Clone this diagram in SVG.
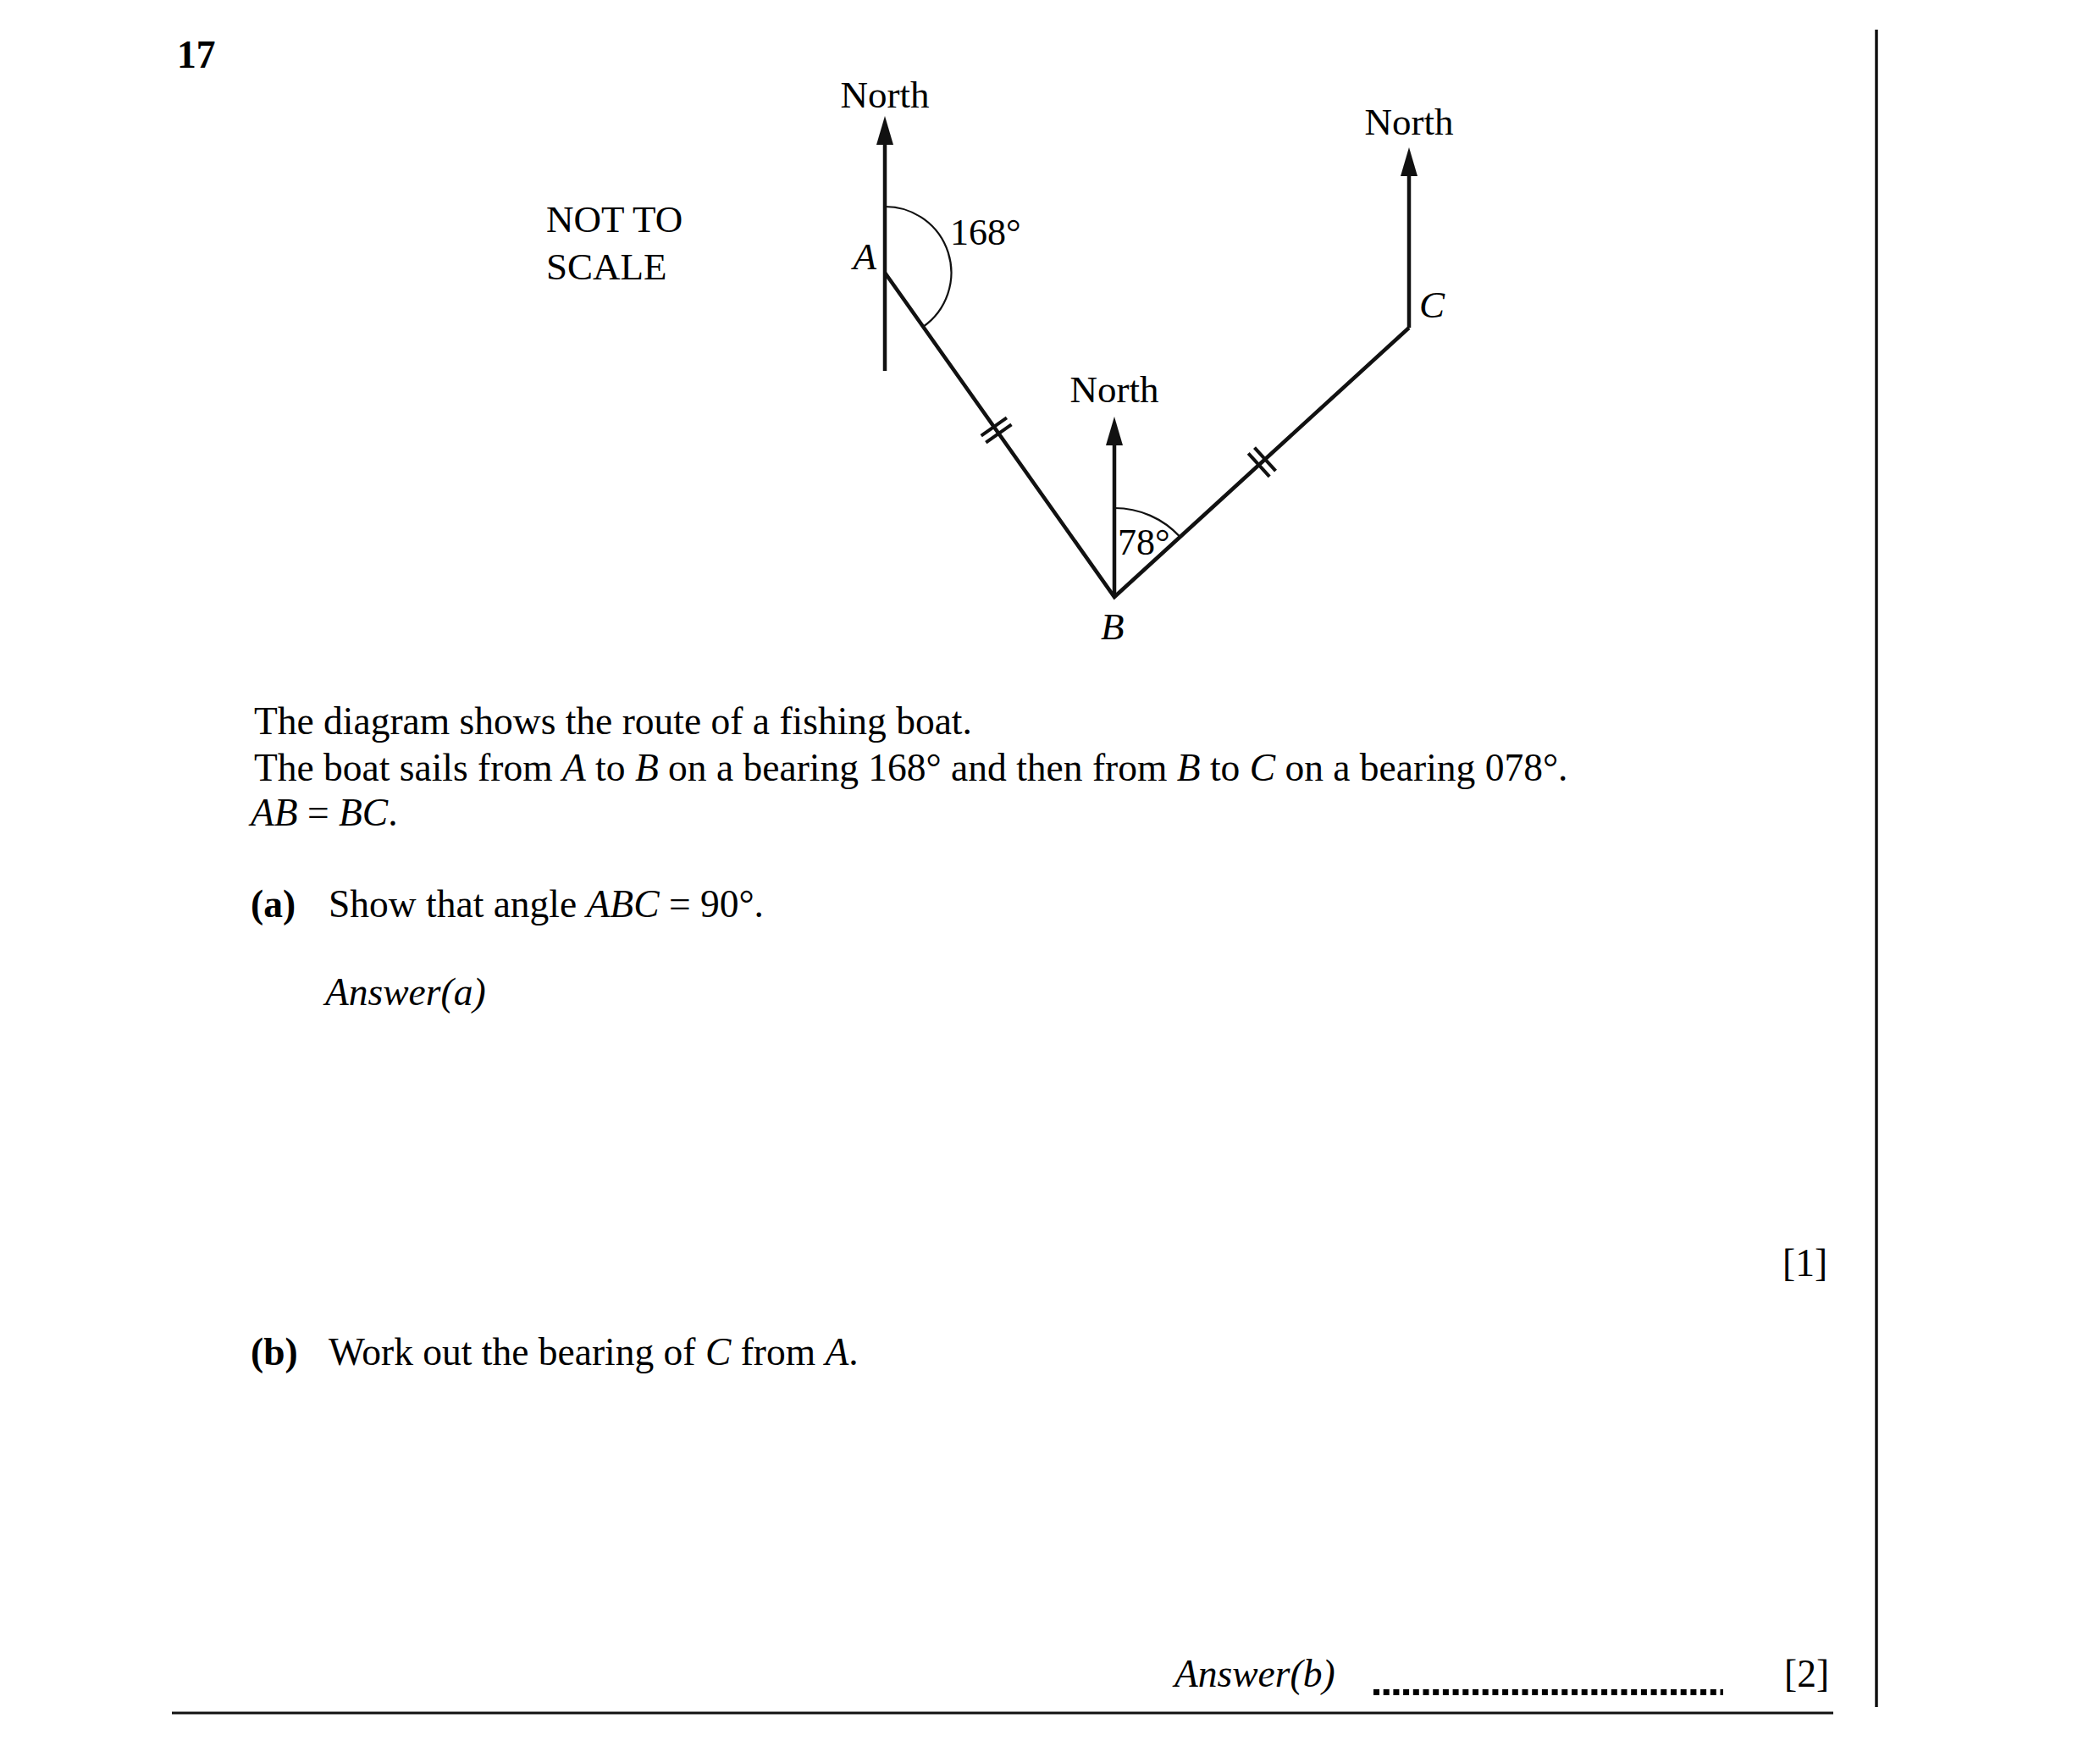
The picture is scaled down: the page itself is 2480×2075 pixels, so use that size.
<svg xmlns="http://www.w3.org/2000/svg" width="2480" height="2075" viewBox="0 0 2480 2075">
<style>
text{font-family:"Liberation Serif","Times New Roman",serif;fill:#000}
.t{font-size:45.5px}
.l{font-size:45px}
.g{font-size:44px}
.i{font-style:italic}
.b{font-weight:bold}
.ln{stroke:#111;stroke-width:4.5;fill:none;stroke-linecap:butt}
.arc{stroke:#111;stroke-width:2.2;fill:none}
.tick{stroke:#111;stroke-width:4;fill:none}
.ah{fill:#111}
</style>
<rect width="2480" height="2075" fill="#fff"/>
<text class="t b" x="209" y="80">17</text>
<g id="note">
<text class="l" x="645" y="274">NOT TO</text>
<text class="l" x="645" y="330">SCALE</text>
</g>
<g id="nodeA">
<text class="l" x="1045" y="127" text-anchor="middle">North</text>
<polygon class="ah" points="1045,137 1035,171 1055,171"/>
<line class="ln" x1="1045" y1="169" x2="1045" y2="438"/>
<text class="l i" x="1035" y="318" text-anchor="end">A</text>
<path class="arc" d="M1045,244 A78,78 0 0 1 1090,386"/>
<text class="g" x="1122" y="289">168°</text>
</g>
<g id="nodeB">
<text class="l" x="1316" y="475" text-anchor="middle">North</text>
<polygon class="ah" points="1316,492 1306,526 1326,526"/>
<line class="ln" x1="1316" y1="524" x2="1316" y2="705"/>
<path class="arc" d="M1316,600 A105,105 0 0 1 1393.6,634.1"/>
<text class="g" x="1320" y="655">78°</text>
<text class="l i" x="1300" y="755">B</text>
</g>
<g id="nodeC">
<text class="l" x="1664" y="159" text-anchor="middle">North</text>
<polygon class="ah" points="1664,174 1654,208 1674,208"/>
<line class="ln" x1="1664" y1="206" x2="1664" y2="387"/>
<text class="l i" x="1676" y="375">C</text>
</g>
<g id="connectors">
<polyline class="ln" points="1045,322 1316,705 1664,387" stroke-linejoin="miter"/>
<line class="tick" x1="1158.7" y1="514.7" x2="1188.9" y2="493.3"/>
<line class="tick" x1="1164.3" y1="522.7" x2="1194.5" y2="501.3"/>
<line class="tick" x1="1474.2" y1="535.4" x2="1499.2" y2="562.8"/>
<line class="tick" x1="1481.5" y1="528.7" x2="1506.5" y2="556.1"/>
</g>
<g id="question">
<text class="t" x="300" y="867">The diagram shows the route of a fishing boat.</text>
<text class="t" x="300" y="922">The boat sails from <tspan class="i">A</tspan> to <tspan class="i">B</tspan> on a bearing 168° and then from <tspan class="i">B</tspan> to <tspan class="i">C</tspan> on a bearing 078°.</text>
<text class="t" x="296" y="975"><tspan class="i">AB</tspan> = <tspan class="i">BC</tspan>.</text>
<text class="t b" x="296" y="1083">(a)</text>
<text class="t" x="388" y="1083">Show that angle <tspan class="i">ABC</tspan> = 90°.</text>
<text class="t i" x="384" y="1187">Answer(a)</text>
<text class="t" x="2105" y="1507">[1]</text>
<text class="t b" x="296" y="1612">(b)</text>
<text class="t" x="388" y="1612">Work out the bearing of <tspan class="i">C</tspan> from <tspan class="i">A</tspan>.</text>
<text class="t i" x="1387" y="1992">Answer(b)</text>
<line x1="1622" y1="1998.5" x2="2035" y2="1998.5" stroke="#000" stroke-width="7" stroke-dasharray="7 4.7"/>
<text class="t" x="2107" y="1992">[2]</text>
</g>
<line x1="203" y1="2023" x2="2165" y2="2023" stroke="#111" stroke-width="3"/>
<line x1="2216" y1="35" x2="2216" y2="2016" stroke="#111" stroke-width="3.5"/>
</svg>
